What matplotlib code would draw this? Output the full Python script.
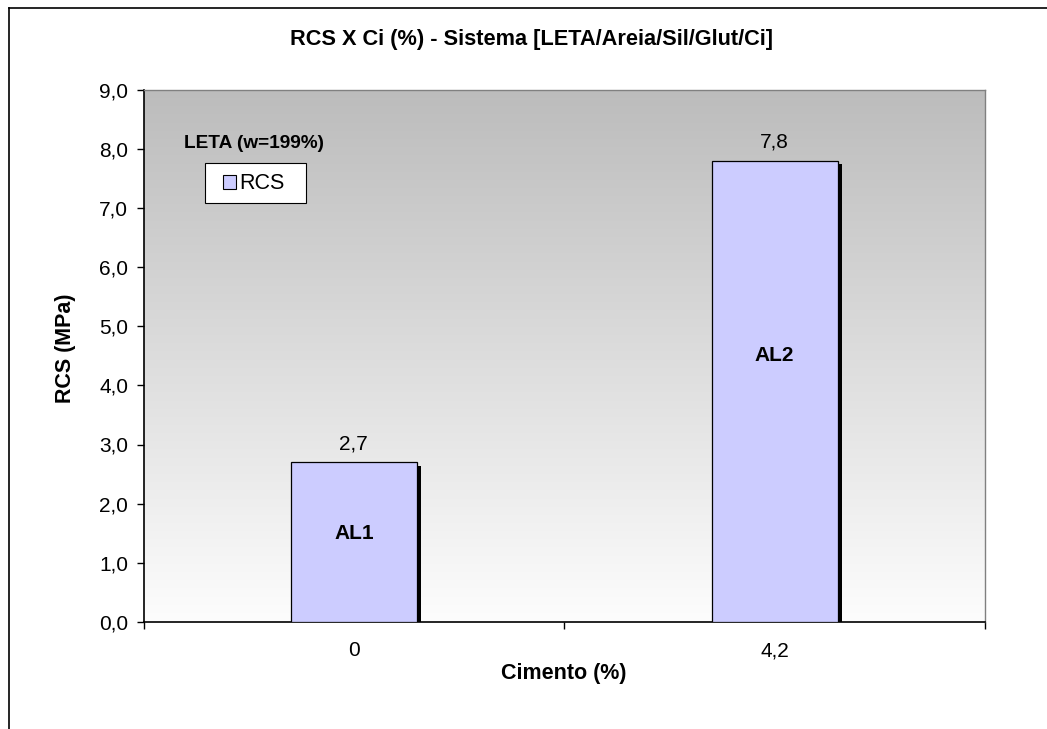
import numpy as np
import matplotlib
matplotlib.use("Agg")
import matplotlib.pyplot as plt
from matplotlib import patheffects
from matplotlib.lines import Line2D
from matplotlib.patches import Rectangle
from matplotlib.legend_handler import HandlerBase

plt.rcParams['font.family'] = ['Liberation Sans', 'DejaVu Sans']

# data
categories = ["0", "4,2"]
rcs_values = [2.7, 7.8]
bar_tags = ["AL1", "AL2"]
tag_heights = [1.5, 4.5]
y_ticks = [0.0, 1.0, 2.0, 3.0, 4.0, 5.0, 6.0, 7.0, 8.0, 9.0]

W, H = 1047, 729
fig = plt.figure(figsize=(W / 100, H / 100), dpi=100)
fig.patch.set_facecolor("white")

# outer chart frame (top and left edges)
fig.add_artist(Line2D([8.5 / W, 1.0], [1 - 7.5 / H, 1 - 7.5 / H], transform=fig.transFigure, color="black", lw=1.2))
fig.add_artist(Line2D([8.5 / W, 8.5 / W], [0.0, 1 - 7.5 / H], transform=fig.transFigure, color="black", lw=1.2))

left, right, top, bottom = 143.5, 985, 89.5, 622
ax = fig.add_axes([left / W, 1 - bottom / H, (right - left) / W, (bottom - top) / H])

x = np.arange(len(categories))

# vertical gradient background: grey at top to near white at bottom
grad = np.linspace(0, 1, 256).reshape(-1, 1)
top_c = np.array([188, 188, 188]) / 255
bot_c = np.array([253, 253, 253]) / 255
img = top_c + (bot_c - top_c) * grad
img = np.repeat(img[:, None, :], 2, axis=1).reshape(256, 2, 3)
ax.imshow(img, extent=(-0.5, len(categories) - 0.5, 0, 9), origin="upper", aspect="auto", zorder=0)
ax.set_xlim(-0.5, len(categories) - 0.5)
ax.set_ylim(0, 9)

bars = ax.bar(x, rcs_values, width=0.30, color="#ccccff", edgecolor="black", linewidth=0.9,
              zorder=3, label="RCS")
for b in bars:
    b.set_path_effects([patheffects.SimplePatchShadow(offset=(3.0, -2.5), shadow_rgbFace="black", alpha=1.0),
                        patheffects.Normal()])

for xi, v in zip(x, rcs_values):
    ax.annotate(f"{v:.1f}".replace(".", ","), (xi, v), xytext=(0, 13.5), textcoords="offset points",
                ha="center", va="center", fontsize=15, zorder=5)
for xi, t, h in zip(x, bar_tags, tag_heights):
    ax.text(xi, h, t, ha="center", va="center", fontsize=15, fontweight="bold", zorder=5)

# axes styling
ax.set_yticks(y_ticks)
ax.set_yticklabels([f"{t:.1f}".replace(".", ",") for t in y_ticks], fontsize=15)
ax.set_xticks([-0.5, 0.5, 1.5])
ax.set_xticklabels([])
ax.set_xticks(x, minor=True)
ax.set_xticklabels(categories, minor=True, fontsize=15)
ax.tick_params(axis="x", which="minor", length=0, pad=14)
ax.tick_params(axis="x", which="major", length=5, width=1, direction="out")
ax.tick_params(axis="y", length=5, width=1, direction="out", pad=6)
for s in ("top", "right"):
    ax.spines[s].set_color("#808080")
    ax.spines[s].set_linewidth(1)
for s in ("left", "bottom"):
    ax.spines[s].set_color("black")
    ax.spines[s].set_linewidth(1.2)

fig.text(65 / W, 1 - 348 / H, "RCS (MPa)", rotation=90, ha="center", va="center",
         fontsize=15.5, fontweight="bold")
fig.text(564 / W, 1 - 674 / H, "Cimento (%)", ha="center", va="center",
         fontsize=15.5, fontweight="bold")
fig.text(531.5 / W, 1 - 40 / H, "RCS X Ci (%) - Sistema [LETA/Areia/Sil/Glut/Ci]",
         ha="center", va="center", fontsize=15.7, fontweight="bold")
fig.text(184 / W, 1 - 143 / H, "LETA (w=199%)", ha="left", va="center", fontsize=13.7, fontweight="bold")


class SquareKey(HandlerBase):
    """Small filled square key, right-aligned inside the handle box."""
    def create_artists(self, legend, orig_handle, xdescent, ydescent, width, height, fontsize, trans):
        s = 9.8
        r = Rectangle((-xdescent + width - s, -ydescent + (height - s) / 2 - 0.5), s, s,
                      facecolor=orig_handle.get_facecolor(), edgecolor="black", linewidth=0.8,
                      transform=trans)
        return [r]


leg = ax.legend(handles=[bars.patches[0]], labels=["RCS"], handler_map={Rectangle: SquareKey()},
                loc="upper left", bbox_to_anchor=(205 / W, 1 - 202 / H, 101 / W, 39 / H),
                bbox_transform=fig.transFigure, mode="expand", fancybox=False, framealpha=1,
                edgecolor="black", fontsize=15.5, borderaxespad=0, handlelength=1.0,
                handleheight=0.7, handletextpad=0.15, borderpad=0.45)
leg.get_frame().set_linewidth(0.8)

fig.savefig("out.png", dpi=100)
